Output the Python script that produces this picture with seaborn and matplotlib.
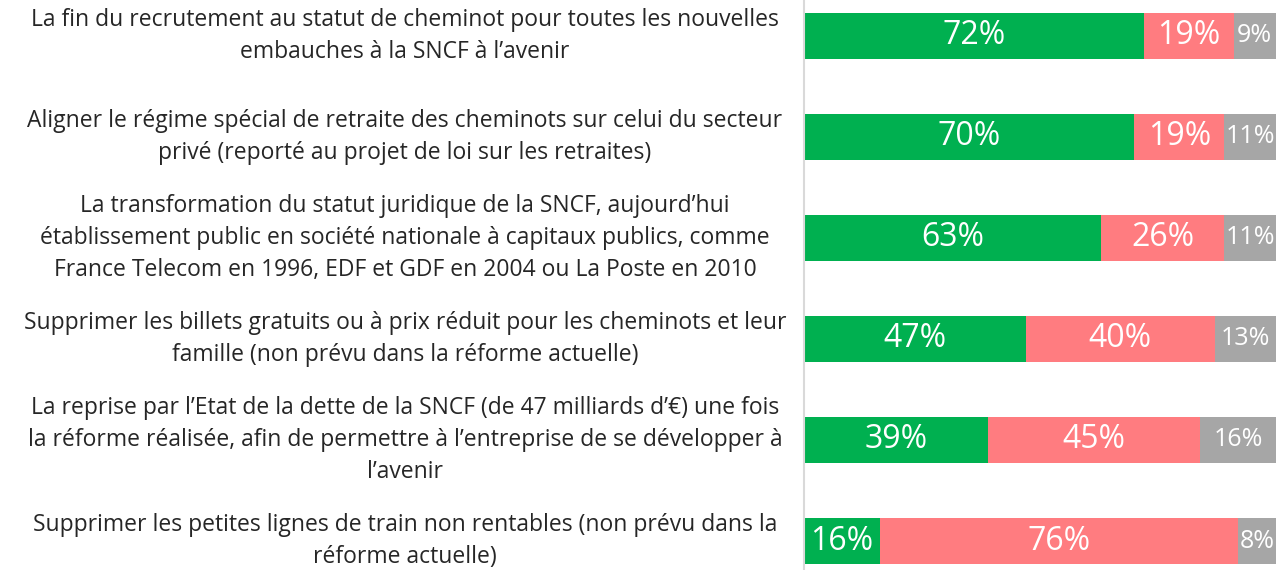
import matplotlib
matplotlib.use("Agg")
import matplotlib.pyplot as plt
import matplotlib.transforms as mtransforms
import seaborn as sns
import pandas as pd

categories = [
    "La fin du recrutement au statut de cheminot pour toutes les nouvelles\nembauches à la SNCF à l’avenir",
    "Aligner le régime spécial de retraite des cheminots sur celui du secteur\nprivé (reporté au projet de loi sur les retraites)",
    "La transformation du statut juridique de la SNCF, aujourd’hui\nétablissement public en société nationale à capitaux publics, comme\nFrance Telecom en 1996, EDF et GDF en 2004 ou La Poste en 2010",
    "Supprimer les billets gratuits ou à prix réduit pour les cheminots et leur\nfamille (non prévu dans la réforme actuelle)",
    "La reprise par l’Etat de la dette de la SNCF (de 47 milliards d’€) une fois\nla réforme réalisée, afin de permettre à l’entreprise de se développer à\nl’avenir",
    "Supprimer les petites lignes de train non rentables (non prévu dans la\nréforme actuelle)",
]
favorable = [72, 70, 63, 47, 39, 16]
opposed = [19, 19, 26, 40, 45, 76]
no_opinion = [9, 11, 11, 13, 16, 8]

c_green = "#00B050"
c_red = "#FF7C80"
c_gray = "#A6A6A6"

sns.set_theme(style="white")
plt.rcParams["font.family"] = ["Open Sans", "DejaVu Sans"]

keys = [f"c{i}" for i in range(len(categories))]
df = pd.DataFrame({
    "key": keys,
    "fav": favorable,
    "opp": opposed,
    "nsp": no_opinion,
})
df["cum2"] = df["fav"] + df["opp"]
df["cum3"] = df["cum2"] + df["nsp"]

fig = plt.figure(figsize=(12.88, 5.70), dpi=100)
ax = fig.add_axes([804 / 1288, 0, 472 / 1288, 1])

bw = 0.455
sns.barplot(data=df, y="key", x="cum3", color=c_gray, width=bw, ax=ax,
            saturation=1, orient="h", linewidth=0)
sns.barplot(data=df, y="key", x="cum2", color=c_red, width=bw, ax=ax,
            saturation=1, orient="h", linewidth=0)
sns.barplot(data=df, y="key", x="fav", color=c_green, width=bw, ax=ax,
            saturation=1, orient="h", linewidth=0)

ax.set_xlim(0, 100)
ax.set_ylim(5.287, -0.356)
ax.set_xlabel("")
ax.set_ylabel("")
ax.set_xticks([])
ax.set_yticks([])
for s in ["top", "right", "bottom"]:
    ax.spines[s].set_visible(False)
ax.spines["left"].set_color("#D9D9D9")
ax.spines["left"].set_linewidth(1.5)

for i in range(len(categories)):
    f, o, n = favorable[i], opposed[i], no_opinion[i]
    ax.text(f / 2, i, f"{f}%", ha="center", va="center", color="white", fontsize=23)
    ax.text(f + o / 2, i, f"{o}%", ha="center", va="center", color="white", fontsize=23)
    ax.text(f + o + n / 2, i, f"{n}%", ha="center", va="center", color="white", fontsize=18)

trans = mtransforms.blended_transform_factory(fig.transFigure, ax.transData)
for i, lab in enumerate(categories):
    ax.text(405 / 1288, i, lab, transform=trans, ha="center", va="center",
            multialignment="center", fontsize=16.5, color="#262626",
            linespacing=1.42, clip_on=False)

fig.savefig("out.png", dpi=100)
